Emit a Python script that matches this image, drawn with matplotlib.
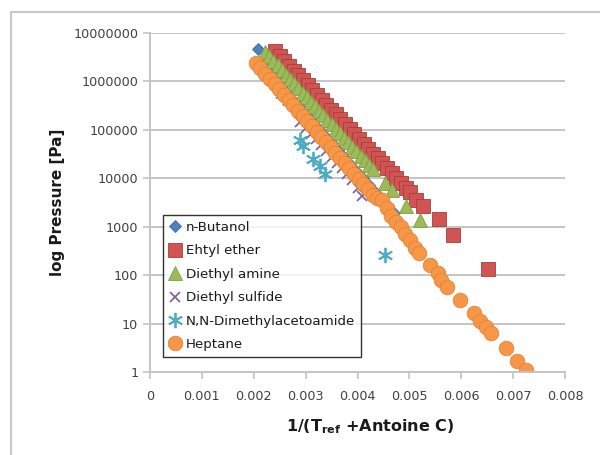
import matplotlib
matplotlib.use("Agg")
import matplotlib.pyplot as plt
from matplotlib.lines import Line2D

plt.rcParams['font.family'] = ['DejaVu Sans']
plt.rcParams['mathtext.default'] = 'bf'

# --- data ---
butanol_x = [0.00208, 0.00218, 0.00230, 0.00242, 0.00254, 0.00266, 0.00278, 0.00290,
             0.00302, 0.00314, 0.00326, 0.00338, 0.00350, 0.00362, 0.00374, 0.00386,
             0.00398, 0.00410, 0.00422, 0.00434, 0.00446, 0.00458, 0.00470]
butanol_p = [4.6e6, 2.14e6, 1.53e6, 1.1e6, 7.9e5, 5.6e5, 4.0e5, 2.9e5,
             2.07e5, 1.48e5, 1.06e5, 7.6e4, 5.4e4, 3.9e4, 2.8e4, 2.0e4,
             1.43e4, 1.02e4, 7.3e3, 5.2e3, 3.75e3, 2.7e3, 1.9e3]

ether_x = [0.00241, 0.00250, 0.00259, 0.00268, 0.00277, 0.00286, 0.00295, 0.00304,
           0.00313, 0.00322, 0.00331, 0.00340, 0.00349, 0.00358, 0.00367, 0.00376,
           0.00385, 0.00394, 0.00403, 0.00412, 0.00421, 0.00430, 0.00439, 0.00448,
           0.00457, 0.00466, 0.00475, 0.00484, 0.00493, 0.00502, 0.00513, 0.00526,
           0.00557, 0.00584, 0.00652]
ether_p = [4.27e6, 3.38e6, 2.68e6, 2.12e6, 1.68e6, 1.34e6, 1.06e6, 8.4e5,
           6.65e5, 5.27e5, 4.18e5, 3.31e5, 2.62e5, 2.08e5, 1.65e5, 1.31e5,
           1.04e5, 8.2e4, 6.5e4, 5.2e4, 4.1e4, 3.24e4, 2.57e4, 2.04e4,
           1.62e4, 1.28e4, 1.02e4, 8.1e3, 6.4e3, 5.1e3, 3.6e3, 2.7e3,
           1.45e3, 680, 134]

amine_x = [0.00222, 0.00230, 0.00238, 0.00246, 0.00254, 0.00262, 0.00270, 0.00278,
           0.00286, 0.00294, 0.00302, 0.00310, 0.00318, 0.00326, 0.00334, 0.00342,
           0.00350, 0.00358, 0.00366, 0.00374, 0.00382, 0.00390, 0.00398, 0.00406,
           0.00414, 0.00422, 0.00430, 0.00453, 0.00467, 0.00493, 0.00520]
amine_p = [4.07e6, 3.29e6, 2.65e6, 2.14e6, 1.73e6, 1.39e6, 1.12e6, 9.1e5,
           7.3e5, 5.9e5, 4.8e5, 3.85e5, 3.1e5, 2.5e5, 2.0e5, 1.63e5,
           1.32e5, 1.06e5, 8.6e4, 6.9e4, 5.6e4, 4.5e4, 3.6e4, 2.9e4,
           2.4e4, 1.9e4, 1.55e4, 7.9e3, 5.7e3, 2.7e3, 1.38e3]

sulfide_x = [0.00290, 0.00300, 0.00310, 0.00320, 0.00330, 0.00340, 0.00350, 0.00360,
             0.00370, 0.00380, 0.00390, 0.00400, 0.00408]
sulfide_p = [1.45e5, 1.10e5, 8.4e4, 6.4e4, 4.8e4, 3.7e4, 2.8e4, 2.1e4,
             1.6e4, 1.2e4, 9.3e3, 6.4e3, 4.3e3]

dma_x = [0.00255, 0.00268, 0.00289, 0.00295, 0.00314, 0.00328, 0.00337, 0.00453]
dma_p = [5.6e5, 3.9e5, 6.2e4, 4.7e4, 2.5e4, 1.8e4, 1.23e4, 260]

heptane_x = [0.00204, 0.00213, 0.00222, 0.00231, 0.00240, 0.00249, 0.00258, 0.00267,
             0.00276, 0.00285, 0.00294, 0.00303, 0.00312, 0.00321, 0.00330, 0.00339,
             0.00348, 0.00357, 0.00366, 0.00375, 0.00384, 0.00393, 0.00402, 0.00411,
             0.00420, 0.00429, 0.00438, 0.00447, 0.00456, 0.00465, 0.00474, 0.00483,
             0.00492, 0.00501, 0.00510, 0.00519, 0.00540, 0.00555, 0.00561, 0.00573,
             0.00598, 0.00625, 0.00636, 0.00648, 0.00657, 0.00686, 0.00707, 0.00725]
heptane_p = [2.4e6, 1.87e6, 1.45e6, 1.13e6, 8.8e5, 6.9e5, 5.3e5, 4.15e5,
             3.2e5, 2.5e5, 1.96e5, 1.52e5, 1.19e5, 9.2e4, 7.2e4, 5.6e4,
             4.35e4, 3.4e4, 2.64e4, 2.05e4, 1.6e4, 1.24e4, 9.7e3, 7.5e3,
             5.9e3, 4.6e3, 3.9e3, 3.5e3, 2.4e3, 1.7e3, 1.25e3, 1.0e3,
             700, 520, 370, 290, 162, 110, 79, 57,
             31, 16.5, 11.3, 8.5, 6.4, 3.1, 1.7, 1.1]

xticks = [0, 0.001, 0.002, 0.003, 0.004, 0.005, 0.006, 0.007, 0.008]
xticklabels = ['0', '0.001', '0.002', '0.003', '0.004', '0.005', '0.006', '0.007', '0.008']
yticks = [1, 10, 100, 1000, 10000, 100000, 1000000, 10000000]
yticklabels = ['1', '10', '100', '1000', '10000', '100000', '1000000', '10000000']

fig = plt.figure(figsize=(6, 4.55), dpi=100)
ax = fig.add_axes([150/600, 1-372/455, 415/600, 339/455])

grid_c = '#c4c4c4'
ax.set_yscale('log')
ax.set_xlim(0, 0.008)
ax.set_ylim(1, 1e7)
ax.set_xticks(xticks)
ax.set_xticklabels(xticklabels)
ax.set_yticks(yticks)
ax.set_yticklabels(yticklabels)
ax.yaxis.set_minor_locator(matplotlib.ticker.NullLocator())
ax.grid(axis='y', color=grid_c, lw=1.4)
ax.set_axisbelow(True)
for s in ['top', 'right']:
    ax.spines[s].set_visible(False)
for s in ['left', 'bottom']:
    ax.spines[s].set_color(grid_c)
    ax.spines[s].set_linewidth(1.4)
ax.tick_params(axis='both', colors=grid_c, labelcolor='#404040', labelsize=9.2,
               length=5, width=1.2, direction='out')
ax.tick_params(axis='x', pad=8)

ax.plot(butanol_x, butanol_p, ls='none', marker='D', ms=6.5, mfc='#4F81BD', mec='#3e6ba3',
        mew=0.6, label='n-Butanol')
ax.plot(ether_x, ether_p, ls='none', marker='s', ms=10, mfc='#D05552', mec='#a83e3b',
        mew=0.6, label='Ehtyl ether')
ax.plot(amine_x, amine_p, ls='none', marker='^', ms=10.5, mfc='#9BBB59', mec='#7f9c45',
        mew=0.6, label='Diethyl amine')
ax.plot(sulfide_x, sulfide_p, ls='none', marker='x', ms=7.5, mec='#8064A2',
        mew=1.3, label='Diethyl sulfide')
ax.plot(dma_x, dma_p, ls='none', marker=(6, 2, 0), ms=11, mec='#4BACC6',
        mew=1.3, label='N,N-Dimethylacetoamide')
ax.plot(heptane_x, heptane_p, ls='none', marker='o', ms=10.5, mfc='#F79646', mec='#e0843a',
        mew=0.6, label='Heptane')

ax.set_ylabel('log Pressure [Pa]', fontsize=11, fontweight='bold', color='#1a1a1a')
ax.yaxis.set_label_coords(-0.205, 0.5)
ax.set_xlabel('1/(T$_{ref}$ +Antoine C)', fontsize=11.5, fontweight='bold', color='#1a1a1a')
ax.xaxis.set_label_coords(0.53, -0.135)

leg = ax.legend(loc='upper left', bbox_to_anchor=(163/600, 1-215/455),
                bbox_transform=fig.transFigure, borderaxespad=0, numpoints=1,
                fancybox=False, frameon=True, edgecolor='black', fontsize=9.6,
                handlelength=0.9, handletextpad=0.35, labelspacing=0.78,
                borderpad=0.45)
leg.get_frame().set_linewidth(1.0)
for t in leg.get_texts():
    t.set_color('#1a1a1a')

# outer chart border
bc = '#c8c8c8'
fig.add_artist(Line2D([11/600, 1], [1-12/455, 1-12/455], transform=fig.transFigure,
                      color=bc, lw=1.5))
fig.add_artist(Line2D([11/600, 11/600], [0, 1-12/455], transform=fig.transFigure,
                      color=bc, lw=1.5))

fig.savefig('out.png', dpi=100)
